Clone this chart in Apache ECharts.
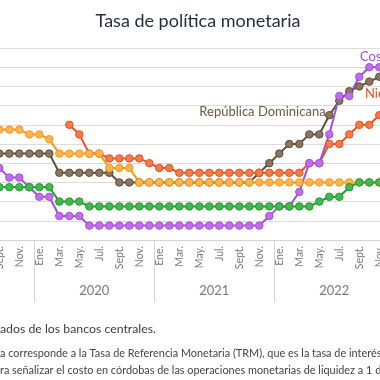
<!DOCTYPE html>
<html><head><meta charset="utf-8">
<script src="https://cdn.jsdelivr.net/npm/echarts@6/dist/echarts.min.js"></script>
<style>
html,body{margin:0;padding:0;width:380px;height:380px;overflow:hidden;background:#fff}
#c{position:absolute;left:-30px;top:0;width:440px;height:380px}
</style>
</head><body><div id="c"></div>
<script>
const categories = ['Sept. 2019','Oct. 2019','Nov. 2019','Dic. 2019',
 'Ene. 2020','Feb. 2020','Mar. 2020','Abr. 2020','May. 2020','Jun. 2020','Jul. 2020','Ago. 2020','Sept. 2020','Oct. 2020','Nov. 2020','Dic. 2020',
 'Ene. 2021','Feb. 2021','Mar. 2021','Abr. 2021','May. 2021','Jun. 2021','Jul. 2021','Ago. 2021','Sept. 2021','Oct. 2021','Nov. 2021','Dic. 2021',
 'Ene. 2022','Feb. 2022','Mar. 2022','Abr. 2022','May. 2022','Jun. 2022','Jul. 2022','Ago. 2022','Sept. 2022','Oct. 2022','Nov. 2022'];
const years = ['2020','2021','2022'];

const costaRica = [3.75,3.25,3.25,2.75,2.25,2.25,1.25,1.25,1.25,
 0.75,0.75,0.75,0.75,0.75,0.75,0.75,0.75,0.75,0.75,0.75,0.75,0.75,0.75,0.75,0.75,0.75,0.75,
 1.25,1.75,1.75,2.5,4.0,4.0,5.5,7.5,7.5,8.5,9.0,9.0];
const nicaragua = [null,null,null,null,null,null,null,
 6.0,5.5,4.5,4.5,4.25,4.25,4.25,4.25,4.0,3.75,3.75,
 3.5,3.5,3.5,3.5,3.5,3.5,3.5,3.5,3.5,3.5,3.5,3.5,3.5,
 4.0,4.0,5.0,5.0,5.5,6.0,6.0,6.5];
const repDominicana = [4.5,4.5,4.5,4.5,4.5,4.5,
 3.5,3.5,3.5,3.5,3.5,3.5,
 3.0,3.0,3.0,3.0,3.0,3.0,3.0,3.0,3.0,3.0,3.0,3.0,3.0,3.0,
 3.5,4.0,4.5,5.0,5.0,5.5,5.5,6.5,7.25,7.75,8.0,8.25,8.5];
const honduras = [5.75,5.75,5.75,5.5,5.5,5.25,
 4.5,4.5,4.5,4.5,4.5,
 3.75,3.75,3.75,
 3.0,3.0,3.0,3.0,3.0,3.0,3.0,3.0,3.0,3.0,3.0,3.0,3.0,3.0,3.0,3.0,3.0,3.0,3.0,3.0,3.0,3.0,3.0,3.0,3.0];
const guatemala = [2.75,2.75,2.75,2.75,2.75,2.75,
 2.0,2.0,2.0,
 1.75,1.75,1.75,1.75,1.75,1.75,1.75,1.75,1.75,1.75,1.75,1.75,1.75,1.75,1.75,1.75,1.75,1.75,1.75,1.75,1.75,1.75,1.75,
 2.0,2.25,2.25,2.75,3.0,3.0,3.0];

const FONT = 'Lato';
function mk(name, data, line, fill){
  return {name, type:'line', data, symbol:'circle', symbolSize:7.5, showSymbol:true, showAllSymbol:true,
    lineStyle:{color:line,width:2}, itemStyle:{color:fill,borderColor:line,borderWidth:1},
    emphasis:{disabled:true}, z:2};
}
const yearTicks = years.map(y => categories.indexOf('Ene. ' + y));
const yearMids = years.map(y => categories.indexOf('Jul. ' + y));

const chart = echarts.init(document.getElementById('c'), null, {renderer:'canvas'});
chart.setOption({
  animation:false,
  textStyle:{fontFamily:FONT},
  grid:{left:24.3, top:48, width:390, height:192},
  xAxis:[{
    type:'category', data:categories, boundaryGap:true,
    axisLine:{lineStyle:{color:'#d3d3d3'}}, axisTick:{show:false},
    axisLabel:{interval:1, rotate:90, fontSize:10.5, color:'#7a7a7a', margin:6, fontFamily:FONT,
      formatter:v => v.split(' ')[0]},
    splitLine:{show:false}
  },{
    type:'value', min:0, max:categories.length, position:'bottom',
    axisLine:{show:false}, splitLine:{show:false},
    axisTick:{show:true, customValues:yearTicks, length:62, lineStyle:{color:'#d6d6d6'}},
    axisLabel:{customValues:yearMids, margin:44, fontSize:13, color:'#7a7a7a', fontFamily:FONT,
      formatter:v => years[yearMids.indexOf(Math.round(v))] || ''}
  }],
  yAxis:{type:'value', min:0, max:10, interval:1, axisLabel:{show:false}, axisLine:{show:false}, axisTick:{show:false},
    splitLine:{lineStyle:{color:'#dcdcdc'}}},
  series:[
    mk('República Dominicana', repDominicana, '#5e4b33', '#8a7763'),
    mk('Nicaragua', nicaragua, '#e8501e', '#f47b48'),
    mk('Costa Rica', costaRica, '#a14fd8', '#c46cf0'),
    mk('Honduras', honduras, '#ff9410', '#ffb453'),
    mk('Guatemala', guatemala, '#1f9a28', '#44b84c')
  ],
  graphic:[
    {type:'text', x:228, y:21, style:{text:'Tasa de política monetaria', font:'18px '+FONT, fill:'#1f2d3d', textAlign:'center', textVerticalAlign:'middle'}},
    {type:'text', x:229.3, y:112, style:{text:'República Dominicana', font:'13px '+FONT, fill:'#6b5a40', textAlign:'left', textVerticalAlign:'middle'}},
    {type:'text', x:390, y:57, style:{text:'Costa Rica', font:'13px '+FONT, fill:'#a14fd8', textAlign:'left', textVerticalAlign:'middle'}},
    {type:'text', x:395, y:93.5, style:{text:'Nicaragua', font:'13px '+FONT, fill:'#e8501e', textAlign:'left', textVerticalAlign:'middle'}},
    {type:'text', x:30, y:329, style:{text:'Fuente: elaborado con datos public', font:'12.3px '+FONT, fill:'#3c3c3c', textAlign:'right', textVerticalAlign:'middle'}},
    {type:'text', x:30, y:329, style:{text:'ados de los bancos centrales.', font:'12.3px '+FONT, fill:'#3c3c3c', textAlign:'left', textVerticalAlign:'middle'}},
    {type:'text', x:30, y:353, style:{text:'Nota: para Nicaragua, la tasa de política monetari', font:'10.9px '+FONT, fill:'#444', textAlign:'right', textVerticalAlign:'middle'}},
    {type:'text', x:30, y:353, style:{text:'a corresponde a la Tasa de Referencia Monetaria (TRM), que es la tasa de interés utilizada', font:'10.9px '+FONT, fill:'#444', textAlign:'left', textVerticalAlign:'middle'}},
    {type:'text', x:30, y:370, style:{text:'por el BCN pa', font:'10.9px '+FONT, fill:'#444', textAlign:'right', textVerticalAlign:'middle'}},
    {type:'text', x:30, y:370, style:{text:'ra señalizar el costo en córdobas de las operaciones monetarias de liquidez a 1 día.', font:'10.9px '+FONT, fill:'#444', textAlign:'left', textVerticalAlign:'middle'}}
  ]
});
</script>
</body></html>
